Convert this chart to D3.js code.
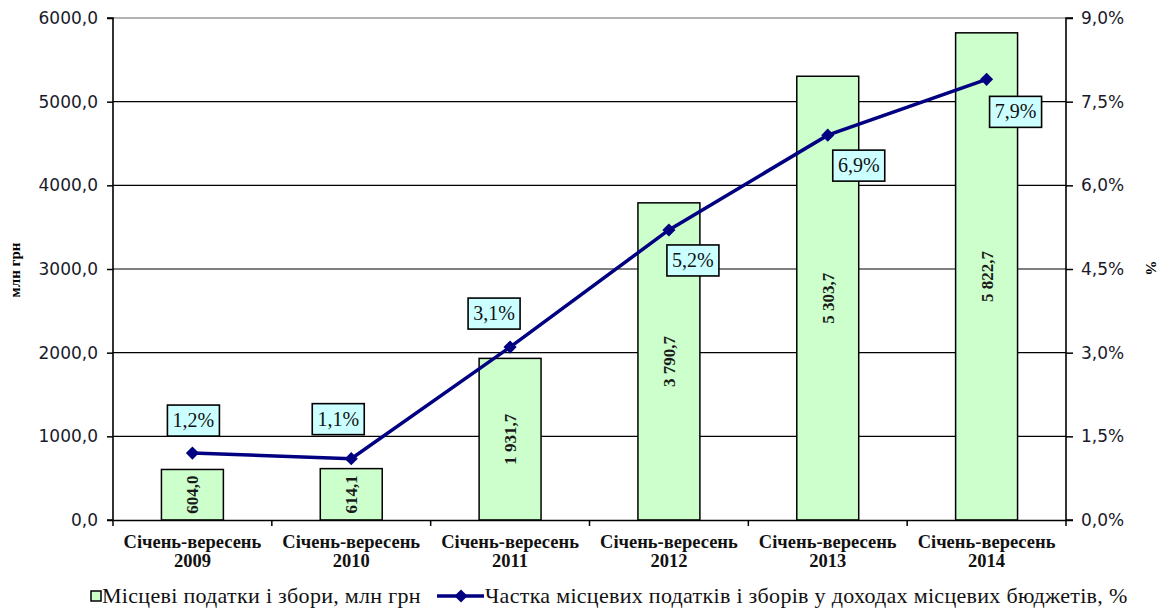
<!DOCTYPE html>
<html>
<head>
<meta charset="utf-8">
<script src="https://cdn.jsdelivr.net/npm/d3@7"></script>
<style>
  body { margin: 0; background: #fff; }
  svg { display: block; }
</style>
</head>
<body>
<div id="container"></div>
<script>
// дані діаграми
const period = "Січень-вересень";
const years = ["2009", "2010", "2011", "2012", "2013", "2014"];
const taxValues = [604.0, 614.1, 1931.7, 3790.7, 5303.7, 5822.7];
const taxLabels = ["604,0", "614,1", "1 931,7", "3 790,7", "5 303,7", "5 822,7"];
const shareValues = [1.2, 1.1, 3.1, 5.2, 6.9, 7.9];
const shareLabels = ["1,2%", "1,1%", "3,1%", "5,2%", "6,9%", "7,9%"];
const leftTicks = [0, 1000, 2000, 3000, 4000, 5000, 6000];
const rightTicks = [0, 1.5, 3.0, 4.5, 6.0, 7.5, 9.0];
const legendBar = "Місцеві податки і збори, млн грн";
const legendLine = "Частка місцевих податків і зборів у доходах місцевих бюджетів, %";

// зсув підписів відсотків відносно точки (центр рамки)
const labelShift = [[1, -33], [-13, -40], [-16, -34], [24, 30], [31, 30], [29, 32]];

const width = 1166;
const height = 608;
const plotLeft = 113, plotRight = 1066, plotTop = 18, plotBottom = 520;

const svg = d3.select("#container")
  .append("svg")
  .attr("width", width)
  .attr("height", height);

svg.append("rect").attr("width", width).attr("height", height).attr("fill", "#fff");

const xScale = d3.scaleBand().domain(years).range([plotLeft, plotRight]).paddingInner(0).paddingOuter(0);
const yLeft = d3.scaleLinear().domain([0, 6000]).range([plotBottom, plotTop]);
const yRight = d3.scaleLinear().domain([0, 9]).range([plotBottom, plotTop]);

const comma = (s) => s.replace(".", ",");

// сітка
svg.append("g")
  .selectAll("line")
  .data(leftTicks.filter((d) => d > 0))
  .join("line")
  .attr("x1", plotLeft).attr("x2", plotRight)
  .attr("y1", (d) => yLeft(d)).attr("y2", (d) => yLeft(d))
  .attr("stroke", (d) => (d === 6000 ? "#9a9a9a" : "#000"))
  .attr("stroke-width", (d) => (d === 6000 ? 1.5 : 1.2));

// стовпчики
const bw = xScale.bandwidth() * 0.39;
svg.append("g")
  .selectAll("rect")
  .data(taxValues)
  .join("rect")
  .attr("x", (d, i) => xScale(years[i]) + xScale.bandwidth() / 2 - bw / 2)
  .attr("y", (d) => yLeft(d))
  .attr("width", bw)
  .attr("height", (d) => plotBottom - yLeft(d))
  .attr("fill", "#ccffcc")
  .attr("stroke", "#000")
  .attr("stroke-width", 1.5);

// підписи стовпчиків
svg.append("g")
  .selectAll("text")
  .data(taxValues)
  .join("text")
  .attr("transform", (d, i) => {
    const cx = xScale(years[i]) + xScale.bandwidth() / 2;
    const cy = (yLeft(d) + plotBottom) / 2;
    return `translate(${cx},${cy}) rotate(-90)`;
  })
  .attr("text-anchor", "middle")
  .attr("dy", "0.35em")
  .attr("font-family", "Liberation Serif, serif")
  .attr("font-weight", "bold")
  .attr("font-size", 17)
  .attr("fill", "#1a1a1a")
  .text((d, i) => taxLabels[i]);

// ліва вісь
const axisL = svg.append("g")
  .attr("transform", `translate(${plotLeft},0)`)
  .call(d3.axisLeft(yLeft).tickValues(leftTicks).tickSize(6).tickPadding(9)
    .tickFormat((d) => comma(d3.format(".1f")(d))));
// права вісь
const axisR = svg.append("g")
  .attr("transform", `translate(${plotRight},0)`)
  .call(d3.axisRight(yRight).tickValues(rightTicks).tickSize(7).tickPadding(8)
    .tickFormat((d) => comma(d3.format(".1f")(d)) + "%"));
// нижня вісь
const axisB = svg.append("g")
  .attr("transform", `translate(0,${plotBottom})`)
  .call(d3.axisBottom(xScale).tickSize(0).tickFormat(""));

[axisL, axisR, axisB].forEach((g) => {
  g.select(".domain").attr("stroke", "#000").attr("stroke-width", 1.6);
  g.selectAll(".tick line").attr("stroke", "#000").attr("stroke-width", 1.5);
  g.selectAll(".tick text")
    .attr("font-family", "DejaVu Sans, sans-serif")
    .attr("font-size", 17)
    .attr("fill", "#1a1a2a");
});
axisL.select(".domain").attr("d", `M-6,${plotTop}H0V${plotBottom}H-6`);
axisR.select(".domain").attr("d", `M7,${plotTop}H0V${plotBottom}H7`);

// засічки між категоріями
svg.append("g")
  .selectAll("line")
  .data(years.map((y) => xScale(y)).concat([plotRight]))
  .join("line")
  .attr("x1", (d) => d).attr("x2", (d) => d)
  .attr("y1", plotBottom).attr("y2", plotBottom + 6)
  .attr("stroke", "#000").attr("stroke-width", 1.5);

// підписи категорій
const cat = svg.append("g")
  .selectAll("text")
  .data(years)
  .join("text")
  .attr("x", (d) => xScale(d) + xScale.bandwidth() / 2)
  .attr("text-anchor", "middle")
  .attr("font-family", "Liberation Serif, serif")
  .attr("font-weight", "bold")
  .attr("font-size", 18.5)
  .attr("fill", "#111");
cat.append("tspan").attr("x", (d) => xScale(d) + xScale.bandwidth() / 2).attr("y", 548).text(period);
cat.append("tspan").attr("x", (d) => xScale(d) + xScale.bandwidth() / 2).attr("y", 567).text((d) => d);

// лінія
const pts = shareValues.map((v, i) => [xScale(years[i]) + xScale.bandwidth() / 2, yRight(v)]);
svg.append("path")
  .attr("d", d3.line()(pts))
  .attr("fill", "none")
  .attr("stroke", "#000080")
  .attr("stroke-width", 3.5);

svg.append("g")
  .selectAll("path")
  .data(pts)
  .join("path")
  .attr("transform", (d) => `translate(${d[0]},${d[1]})`)
  .attr("d", d3.symbol(d3.symbolDiamond2, 110)())
  .attr("fill", "#000080");

// підписи відсотків у рамках
const lab = svg.append("g")
  .selectAll("g")
  .data(shareValues)
  .join("g")
  .attr("transform", (d, i) => `translate(${pts[i][0] + labelShift[i][0]},${pts[i][1] + labelShift[i][1]})`);
lab.append("rect")
  .attr("x", -26).attr("y", -15)
  .attr("width", 52).attr("height", 31)
  .attr("fill", "#ccffff")
  .attr("stroke", "#000")
  .attr("stroke-width", 1.6);
lab.append("text")
  .attr("text-anchor", "middle")
  .attr("dy", "0.35em")
  .attr("font-family", "Liberation Serif, serif")
  .attr("font-size", 20)
  .attr("fill", "#111")
  .text((d, i) => shareLabels[i]);

// назви осей
svg.append("text")
  .attr("transform", "translate(20,270) rotate(-90)")
  .attr("text-anchor", "middle")
  .attr("font-family", "Liberation Serif, serif")
  .attr("font-weight", "bold")
  .attr("font-size", 15)
  .text("млн грн");
svg.append("text")
  .attr("transform", "translate(1146,268) rotate(90)")
  .attr("text-anchor", "middle")
  .attr("font-family", "Liberation Serif, serif")
  .attr("font-weight", "bold")
  .attr("font-size", 15)
  .text("%");

// легенда
const leg = svg.append("g");
leg.append("rect")
  .attr("x", 91).attr("y", 591).attr("width", 10).attr("height", 10)
  .attr("fill", "#ccffcc").attr("stroke", "#000").attr("stroke-width", 1.5);
leg.append("text")
  .attr("x", 102).attr("y", 603)
  .attr("font-family", "Liberation Serif, serif")
  .attr("font-size", 22)
  .attr("letter-spacing", 0.3)
  .attr("fill", "#111")
  .text(legendBar);
leg.append("line")
  .attr("x1", 437).attr("x2", 484).attr("y1", 596).attr("y2", 596)
  .attr("stroke", "#000080").attr("stroke-width", 3.5);
leg.append("path")
  .attr("transform", "translate(461,596)")
  .attr("d", d3.symbol(d3.symbolDiamond2, 110)())
  .attr("fill", "#000080");
leg.append("text")
  .attr("x", 485).attr("y", 603)
  .attr("font-family", "Liberation Serif, serif")
  .attr("font-size", 22)
  .attr("letter-spacing", 0.3)
  .attr("fill", "#111")
  .text(legendLine);
</script>
</body>
</html>
